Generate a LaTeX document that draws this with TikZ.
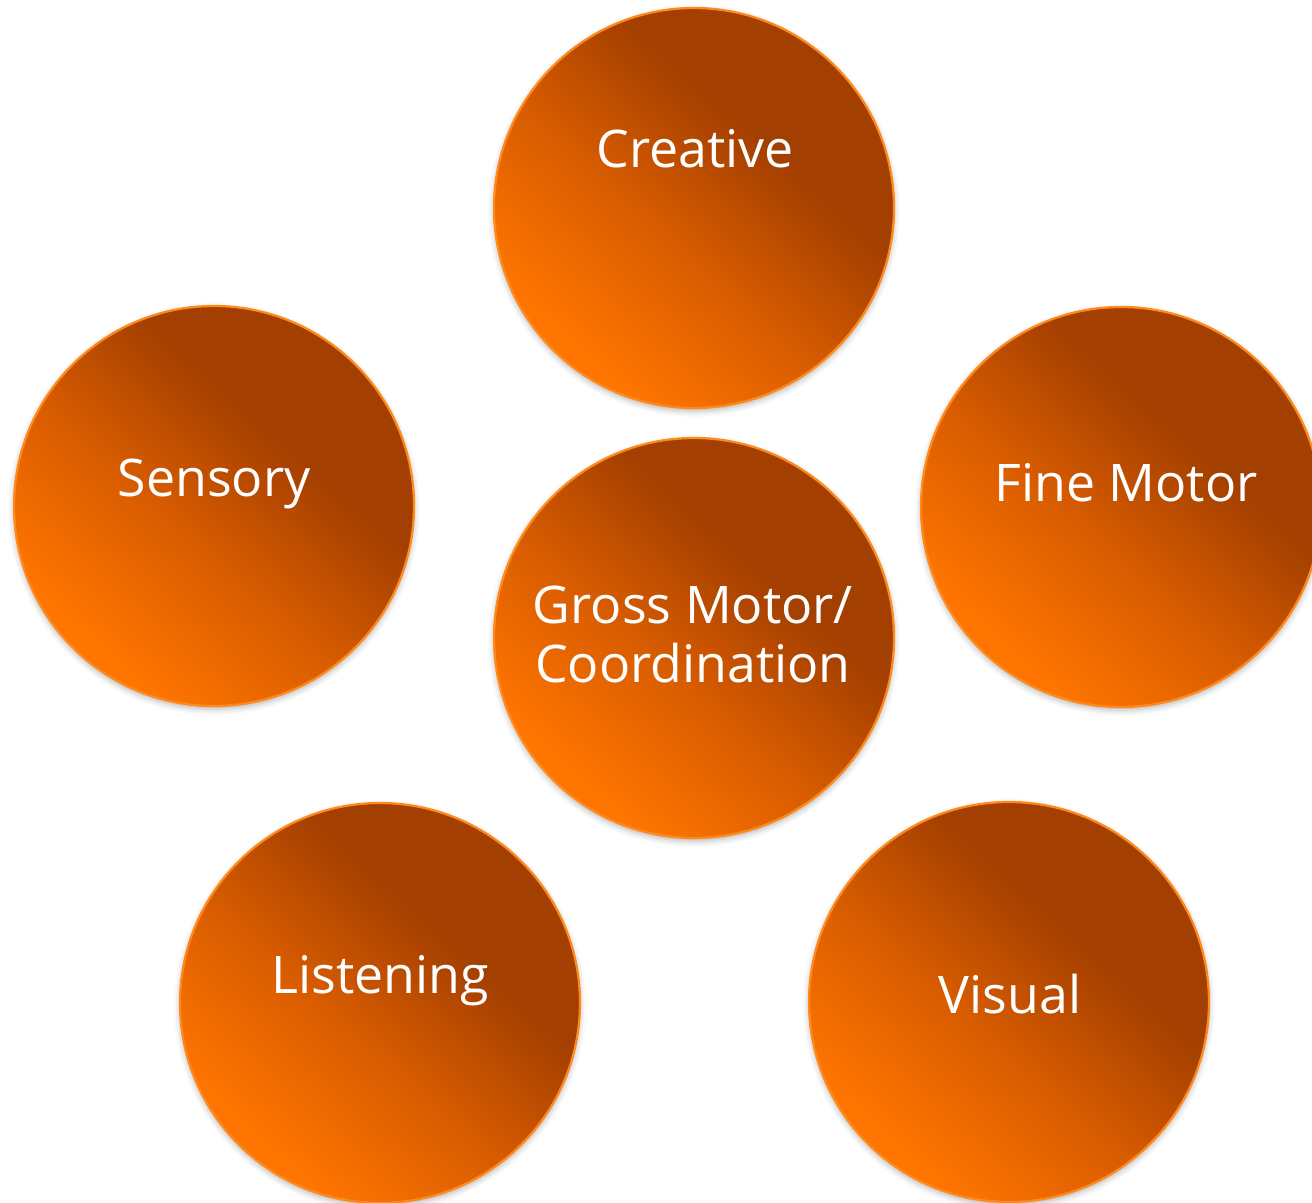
\documentclass[tikz,border=0pt]{standalone}
\usepackage{fontspec}
\setmainfont{Open Sans}
\usetikzlibrary{shadows.blur}

\definecolor{orbLight}{HTML}{FF7500}
\definecolor{orbMid}{HTML}{D85C00}
\definecolor{orbDark}{HTML}{A33F00}
\definecolor{orbRim}{HTML}{FF8A1C}
% light lower left, dark upper right (rotated by the style below)
\pgfdeclarehorizontalshading{orbfill}{100bp}{color(0bp)=(orbLight); color(27bp)=(orbLight); color(45bp)=(orbMid); color(62bp)=(orbDark); color(100bp)=(orbDark)}

\begin{document}
\begin{tikzpicture}[
    x=0.2mm, y=-0.2mm,
    orb/.style={circle, draw=orbRim, line width=0.45mm, minimum size=80mm, inner sep=0pt, shade, shading=orbfill, shading angle=48,
        blur shadow={shadow xshift=0pt, shadow yshift=-0.6mm, shadow blur radius=1.2mm, shadow opacity=30}},
    orbtext/.style={anchor=base, text=white, align=center, font=\fontsize{29.5}{34}\selectfont}
]
    \useasboundingbox (0,0) rectangle (1312,1203);

    % The six circles
    \node[orb] (creative) at (694,208) {};
    \node[orb] (sensory) at (214,506) {};
    \node[orb] (finemotor) at (1121,507) {};
    \node[orb] (grossmotor) at (694,638) {};
    \node[orb] (listening) at (380,1003) {};
    \node[orb] (visual) at (1009,1002) {};

    % Labels (set a little above each centre)
    \node[orbtext] (creativeLabel) at (695,168) {Creative};
    \node[orbtext] (sensoryLabel) at (214,497) {Sensory};
    \node[orbtext] (finemotorLabel) at (1126,502) {Fine Motor};
    \node[orbtext] (grossmotorLabel) at (693,683) {Gross Motor/\\Coordination};
    \node[orbtext] (listeningLabel) at (380,993) {Listening};
    \node[orbtext] (visualLabel) at (1010,1013) {Visual};
\end{tikzpicture}
\end{document}
